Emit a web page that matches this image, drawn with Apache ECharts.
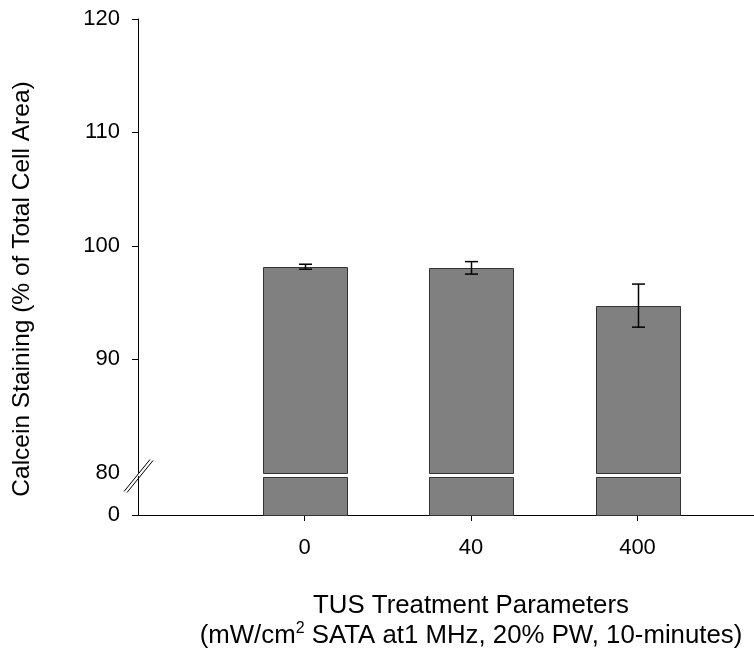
<!DOCTYPE html>
<html>
<head>
<meta charset="utf-8">
<script src="https://cdn.jsdelivr.net/npm/echarts@6/dist/echarts.min.js"></script>
<style>html,body{margin:0;padding:0;background:#fff}#c{width:754px;height:648px}</style>
</head>
<body>
<div id="c"></div>
<script>
const categories = ['0', '40', '400'];
const xPositions = [1, 2, 3];
const means = [98.15, 98.05, 94.72];
const errors = [0.22, 0.55, 1.9];
const upperTicks = [80, 90, 100, 110, 120];
const lowerTicks = [0];

const FONT = "'Liberation Sans', Arial, sans-serif";
const TICK_FS = 22;
const XTITLE_FS = 25.8;
const YTITLE_FS = 24.5;
const BAR_W = 84;
const CAP = 6.5;
const BREAK_VAL = 80;

const chart = echarts.init(document.getElementById('c'), null, {renderer: 'canvas'});

const data = xPositions.map((x, i) => [x, means[i], errors[i]]);

function barItem(lo, hiFn) {
  return function (params, api) {
    const x = api.value(0);
    const v = api.value(1);
    const top = api.coord([x, hiFn(v)]);
    const bot = api.coord([x, lo]);
    return {
      type: 'rect',
      shape: {x: Math.round(top[0] - BAR_W / 2) + 0.5, y: Math.round(top[1]) + 0.5, width: BAR_W, height: Math.round(bot[1]) - Math.round(top[1])},
      style: {fill: '#808080', stroke: '#333', lineWidth: 1}
    };
  };
}

const option = {
  animation: false,
  backgroundColor: '#fff',
  grid: [
    {left: 138, width: 666, top: 19, height: 453.5, outerBoundsMode: 'none', containLabel: false},
    {left: 138, width: 666, top: 476.5, height: 38.5, outerBoundsMode: 'none', containLabel: false}
  ],
  xAxis: [
    {gridIndex: 0, type: 'value', min: 0, max: 4, interval: 1, show: false},
    {
      gridIndex: 1, type: 'value', min: 0, max: 4, interval: 1,
      splitLine: {show: false},
      axisLine: {show: true, onZero: false, lineStyle: {color: '#000', width: 1}},
      axisTick: {show: true, length: 6, customValues: xPositions, lineStyle: {color: '#000'}},
      axisLabel: {
        customValues: xPositions, margin: 22,
        formatter: v => categories[xPositions.indexOf(v)] ?? '',
        color: '#000', fontSize: TICK_FS, fontFamily: FONT
      },
      name: '{a|TUS Treatment Parameters}\n{a|(mW/cm}{s|2}{a| SATA at1 MHz, 20% PW, 10-minutes)}',
      nameLocation: 'middle',
      nameGap: 76,
      nameTextStyle: {
        color: '#000', fontFamily: FONT, fontSize: XTITLE_FS, lineHeight: 30,
        rich: {
          a: {fontSize: XTITLE_FS, fontFamily: FONT, color: '#000', lineHeight: 30},
          s: {fontSize: 16, fontFamily: FONT, color: '#000', lineHeight: 30, verticalAlign: 'top', padding: [0, 0, 9, 0]}
        }
      }
    }
  ],
  yAxis: [
    {
      gridIndex: 0, type: 'value', min: 80, max: 120, interval: 10,
      splitLine: {show: false},
      axisLine: {show: true, onZero: false, lineStyle: {color: '#000', width: 1}},
      axisTick: {show: true, length: 6, customValues: upperTicks.filter(v => v !== BREAK_VAL), lineStyle: {color: '#000'}},
      axisLabel: {customValues: upperTicks, margin: 18, color: '#000', fontSize: TICK_FS, fontFamily: FONT}
    },
    {
      gridIndex: 1, type: 'value', min: 0, max: BREAK_VAL,
      splitLine: {show: false},
      axisLine: {show: true, onZero: false, lineStyle: {color: '#000', width: 1}},
      axisTick: {show: true, length: 6, customValues: lowerTicks, lineStyle: {color: '#000'}},
      axisLabel: {customValues: lowerTicks, margin: 18, color: '#000', fontSize: TICK_FS, fontFamily: FONT}
    }
  ],
  graphic: [{
    type: 'text', x: 22, y: 289, rotation: Math.PI / 2,
    style: {text: 'Calcein Staining (% of Total Cell Area)', font: YTITLE_FS + 'px ' + FONT, fill: '#000', textAlign: 'center', textVerticalAlign: 'middle'}
  }],
  series: [
    {
      type: 'custom', xAxisIndex: 0, yAxisIndex: 0, data: data, clip: false,
      renderItem: barItem(BREAK_VAL, v => v)
    },
    {
      type: 'custom', xAxisIndex: 1, yAxisIndex: 1, data: data, clip: false,
      renderItem: barItem(0, v => Math.min(v, BREAK_VAL))
    },
    {
      type: 'custom', xAxisIndex: 0, yAxisIndex: 0, data: data, clip: false, z: 5,
      renderItem: function (params, api) {
        const x = api.value(0), v = api.value(1), e = api.value(2);
        const hi = api.coord([x, v + e]);
        const lo = api.coord([x, v - e]);
        const cx = Math.round(hi[0]) + 0.5;
        const st = {stroke: '#000', lineWidth: 1.5};
        return {type: 'group', children: [
          {type: 'line', shape: {x1: cx, y1: hi[1], x2: cx, y2: lo[1]}, style: st},
          {type: 'line', shape: {x1: cx - CAP, y1: hi[1], x2: cx + CAP, y2: hi[1]}, style: st},
          {type: 'line', shape: {x1: cx - CAP, y1: lo[1], x2: cx + CAP, y2: lo[1]}, style: st}
        ]};
      }
    },
    {
      type: 'custom', xAxisIndex: 0, yAxisIndex: 0, data: [[0, BREAK_VAL]], clip: false, z: 6,
      renderItem: function (params, api) {
        const p = api.coord([api.value(0), api.value(1)]);
        const cx = p[0], cy = p[1] + 2;
        const st = {stroke: '#000', lineWidth: 1};
        return {type: 'group', children: [
          {type: 'line', shape: {x1: cx - 14, y1: cy + 17, x2: cx + 12, y2: cy - 15}, style: st},
          {type: 'line', shape: {x1: cx - 11, y1: cy + 18, x2: cx + 15, y2: cy - 14}, style: st}
        ]};
      }
    }
  ]
};
chart.setOption(option);
</script>
</body>
</html>
